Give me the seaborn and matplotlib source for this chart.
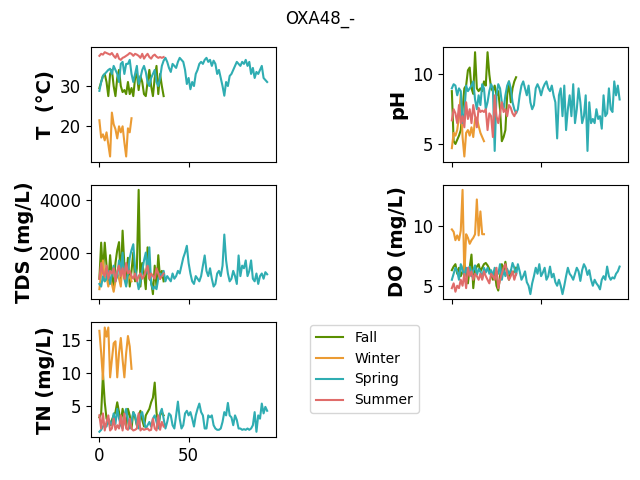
import numpy as np
import pandas as pd
import matplotlib
matplotlib.use("Agg")
import matplotlib.pyplot as plt
import seaborn as sns

seasons = ["Fall", "Winter", "Spring", "Summer"]
colors = {"Fall": "#5a8f00", "Winter": "#eb9b33", "Spring": "#2fadb2", "Summer": "#e06c6a"}

variables = ["T", "pH", "TDS", "DO", "TN"]
ylabels = ["T  (°C)", "pH", "TDS (mg/L)", "DO (mg/L)", "TN (mg/L)"]

# Fall (37 samples)
fall_T = [29.5, 31, 32.5, 33, 31, 27.5, 33, 34, 30, 27.5, 32, 34, 30, 28.5, 29, 28, 31, 28, 29.5, 27.5,
          32, 33, 29, 32.5, 31, 28, 27.5, 31, 34, 30, 27.5, 32, 35, 28, 33, 30, 27.5]
fall_pH = [8.8, 5.2, 5.0, 5.3, 5.6, 6.0, 7.5, 9.0, 9.2, 10.3, 10.5, 9.0, 8.6, 11.6, 9.0, 8.8, 9.0, 8.8, 9.5, 9.2,
           11.6, 10.0, 9.0, 8.8, 9.2, 8.5, 8.8, 7.5, 5.2, 5.5, 6.0, 8.5, 9.5, 8.0, 9.0, 9.5, 9.8]
fall_TDS = [1000, 2380, 1200, 2380, 1500, 800, 1900, 1100, 700, 1600, 2100, 2400, 900, 2840, 1500, 1000, 1800, 700, 1300, 2000,
            900, 1400, 4400, 700, 1600, 1200, 600, 2200, 1000, 900, 410, 1500, 700, 1900, 1000, 1300, 900]
fall_DO = [6.3, 6.6, 6.8, 6.0, 6.5, 5.8, 6.2, 6.9, 6.0, 5.2, 6.5, 7.6, 4.8, 6.3, 6.6, 6.8, 6.2, 6.5, 6.8, 6.9,
           6.7, 6.4, 6.0, 5.5, 6.2, 5.0, 4.6, 5.8, 6.8, 6.2, 7.0, 6.0, 5.5, 6.3, 6.0, 6.2, 6.5]
fall_TN = [3.2, 3.8, 9.8, 5.5, 3.0, 2.5, 2.0, 2.8, 3.5, 4.0, 5.5, 4.0, 2.2, 4.5, 3.0, 1.8, 4.5, 3.5, 1.5, 4.0,
           3.2, 2.0, 3.5, 4.2, 2.8, 1.8, 3.5, 4.0, 4.5, 5.5, 6.2, 8.5, 4.0, 1.8, 3.5, 4.0, 3.5]

# Winter (19 samples)
winter_T = [21.5, 17.2, 18.0, 16.5, 18.5, 15.5, 12.5, 23.4, 20.5, 19.3, 17.0, 20.0, 18.5, 20.0, 16.0, 12.5, 19.5, 18.5, 22.0]
winter_pH = [4.7, 5.8, 5.6, 6.0, 7.0, 8.6, 5.5, 4.1, 5.8, 6.0, 5.6, 6.2, 5.5, 6.8, 6.9, 6.3, 5.8, 5.5, 5.2]
winter_TDS = [600, 1200, 1700, 900, 1100, 700, 1000, 800, 500, 900, 1200, 1000, 700, 1600, 1300, 800, 1000, 1100, 900]
winter_DO = [9.7, 9.5, 8.8, 9.2, 8.8, 9.6, 13.0, 5.8, 9.3, 9.0, 8.5, 8.8, 9.0, 9.3, 12.2, 9.2, 11.2, 9.3, 9.3]
winter_TN = [16.4, 13.0, 9.0, 16.9, 15.5, 16.9, 9.3, 12.0, 14.5, 14.8, 9.3, 13.0, 15.3, 12.0, 9.3, 13.0, 15.6, 14.0, 10.6]

# Spring (95 samples)
spring_T = [28.8, 31, 32.5, 33, 33.5, 34, 34.3, 33, 35, 34,
            33, 31, 35.5, 36, 33, 35.5, 35.5, 36.5, 33, 31,
            33, 35, 30.5, 32, 34, 35, 33.5, 31, 30, 32,
            33, 34, 31, 30, 32, 35, 36.3, 37, 36, 34.5,
            33.5, 35.5, 35, 34.5, 36, 37, 36.5, 36, 34, 30.5,
            32, 29.2, 31, 30, 33, 34, 35.5, 36, 35.5, 36.5,
            37, 36, 36.5, 35, 36.3, 35.5, 33, 34, 32, 30,
            27.6, 31, 30, 32.5, 33, 34, 35, 36, 35.5, 35,
            36, 35.5, 36.5, 35, 36, 33, 34.5, 32, 33.5, 33,
            34, 35, 32, 31.5, 31]
spring_pH = [9.0, 9.3, 9.2, 8.5, 9.0, 8.8, 6.5, 7.2, 9.2, 8.8,
             9.0, 9.2, 9.5, 8.2, 7.5, 8.5, 7.8, 9.3, 9.0, 7.5,
             8.0, 8.8, 9.3, 9.0, 4.5, 8.5, 9.3, 9.0, 8.0, 7.5,
             8.5, 9.2, 9.5, 9.0, 8.0, 7.5, 7.2, 7.5, 8.5, 9.2,
             9.5, 9.0, 8.5, 9.2, 8.0, 7.5, 7.8, 9.0, 9.3, 9.0,
             8.5, 9.0, 9.3, 9.5, 9.0, 8.8, 9.2, 8.5, 8.0, 5.4,
             8.5, 9.0, 7.0, 9.2, 6.0, 7.5, 8.5, 7.0, 9.3, 6.5,
             7.5, 9.0, 8.0, 6.5, 7.0, 8.5, 4.5, 8.0, 6.5, 6.8,
             6.5, 7.5, 6.8, 7.0, 6.1, 8.5, 7.0, 7.2, 9.0, 7.5,
             7.3, 9.5, 8.5, 9.2, 8.2]
spring_TDS = [800, 700, 1100, 900, 1000, 1300, 800, 1200, 1500, 900,
              1100, 1700, 1300, 2000, 1000, 700, 1200, 1800, 2100, 2320,
              1400, 1000, 600, 900, 1300, 1700, 2000, 1200, 2200, 800,
              600, 700, 600, 1000, 1200, 1100, 1300, 900, 1100, 1000,
              900, 1200, 1000, 1100, 1300, 1200, 1500, 1800, 2000, 2260,
              1600, 1200, 900, 800, 1100, 1000, 900, 1100, 1500, 1890,
              1300, 1100, 1400, 1000, 700, 800, 1200, 1300, 1100, 1500,
              2690, 1700, 1200, 900, 1000, 1300, 1100, 800, 1890, 1100,
              1500, 1400, 1700, 1100, 1300, 1700, 1000, 900, 1200, 800,
              1100, 1200, 1000, 1250, 1170]
spring_DO = [5.5, 6.0, 6.5, 6.2, 5.5, 6.8, 6.3, 5.8, 6.5, 6.0,
             6.6, 5.8, 6.3, 6.7, 5.9, 6.4, 6.2, 5.6, 6.5, 6.1,
             6.5, 6.0, 6.3, 5.8, 6.5, 6.2, 6.0, 6.8, 5.5, 6.3,
             5.8, 6.4, 6.0, 6.2, 6.9, 6.5, 5.9, 6.8, 6.2, 5.5,
             5.8, 6.2, 5.3, 5.0, 4.3, 5.2, 5.8, 6.5, 6.0, 6.8,
             5.8, 6.1, 6.5, 5.5, 5.8, 6.6, 5.7, 6.0, 5.3, 5.0,
             5.5, 5.0, 4.3, 5.0, 5.8, 6.5, 6.0, 5.8, 5.5, 6.0,
             6.5, 6.2, 5.4, 6.3, 6.8, 6.5, 5.9, 6.3, 5.5, 5.0,
             5.5, 5.2, 5.0, 4.7, 5.5, 5.8, 5.5, 6.6, 5.8, 5.5,
             5.7, 5.6, 6.0, 6.2, 6.6]
spring_TN = [1.0, 1.3, 1.8, 2.2, 1.8, 3.0, 2.5, 2.0, 3.8, 2.2,
             4.5, 3.0, 2.0, 1.5, 3.5, 4.5, 2.8, 1.5, 2.5, 4.0,
             3.5, 2.0, 1.5, 3.5, 4.0, 2.5, 1.5, 2.0, 2.5, 1.8,
             3.0, 3.5, 2.5, 1.5, 3.8, 4.5, 3.0, 1.5, 2.5, 3.8,
             3.5, 2.0, 1.5, 3.5, 5.6, 3.0, 1.5, 2.0, 3.8, 4.2,
             3.5, 4.0, 3.0, 1.8, 3.5, 4.5, 5.3, 4.0, 3.5, 1.5,
             1.5, 3.5, 3.2, 3.5, 2.0, 1.5, 1.3, 1.3, 1.5, 2.5,
             4.0, 3.5, 5.4, 3.5, 3.2, 2.0, 3.5, 2.8, 1.5, 1.5,
             1.3, 1.4, 1.3, 1.5, 1.3, 1.5, 2.0, 4.0, 1.0, 3.5,
             3.0, 5.3, 3.8, 4.8, 4.2]

# Summer (37 samples)
summer_T = [37.5, 38.0, 37.8, 38.4, 38.2, 38.0, 37.8, 38.2, 37.5, 37.0, 38.0, 36.8, 36.5, 37.0, 37.2, 37.5, 37.8, 38.2, 38.0,
            37.5, 38.0, 37.8, 37.5, 37.0, 38.0, 36.8, 37.5, 38.0, 37.2, 36.8, 37.5, 37.8, 37.3, 37.0, 37.2, 37.0, 37.2]
summer_pH = [6.7, 7.5, 7.2, 6.5, 7.8, 6.5, 7.0, 6.2, 8.0, 6.8, 7.5, 6.5, 7.8, 7.0, 6.2, 7.6, 7.3, 7.4, 7.3,
             7.5, 6.0, 7.2, 7.0, 5.5, 8.5, 7.0, 6.5, 7.2, 8.0, 7.3, 7.5, 7.0, 7.8, 7.6, 7.2, 7.0, 7.3]
summer_TDS = [1000, 1600, 1200, 1100, 1500, 1000, 1300, 1200, 1400, 900, 1300, 1500, 1100, 1400, 1000, 1600, 1200, 1300, 1100,
              1000, 1200, 900, 1100, 1200, 1000, 1100, 1300, 1500, 1000, 1200, 1100, 1000, 1400, 1200, 1000, 1100, 1200]
summer_DO = [4.8, 5.2, 4.5, 5.0, 4.8, 5.5, 5.0, 6.0, 4.8, 6.5, 5.8, 6.2, 5.5, 6.0, 5.8, 5.5, 6.0, 5.5, 6.2,
             5.8, 5.5, 5.2, 6.0, 5.8, 5.5, 6.5, 4.8, 5.5, 6.0, 6.5, 6.8, 6.0, 5.5, 5.8, 6.2, 5.5, 6.0]
summer_TN = [3.5, 1.5, 3.8, 1.2, 2.5, 3.5, 1.2, 1.5, 3.0, 1.3, 2.0, 1.5, 3.5, 1.2, 3.8, 1.5, 1.3, 3.0, 1.5,
             1.2, 1.3, 1.5, 3.8, 1.2, 1.5, 1.3, 1.4, 1.5, 1.2, 1.3, 3.0, 1.5, 1.2, 3.5, 1.3, 2.5, 1.8]

# Build long-form table
data = {
    "Fall": [fall_T, fall_pH, fall_TDS, fall_DO, fall_TN],
    "Winter": [winter_T, winter_pH, winter_TDS, winter_DO, winter_TN],
    "Spring": [spring_T, spring_pH, spring_TDS, spring_DO, spring_TN],
    "Summer": [summer_T, summer_pH, summer_TDS, summer_DO, summer_TN],
}
frames = []
for season in seasons:
    cols = dict(zip(variables, data[season]))
    d = pd.DataFrame(cols)
    d["sample"] = np.arange(len(d))
    d["season"] = season
    frames.append(d)
df = pd.concat(frames, ignore_index=True)

# Plot
fig, axes = plt.subplots(3, 2, sharex=True, figsize=(6.4, 4.8), dpi=100)
fig.suptitle("OXA48_-")

for ax, var, lab in zip(axes.flat, variables, ylabels):
    sns.lineplot(data=df, x="sample", y=var, hue="season", hue_order=seasons,
                 palette=colors, ax=ax, legend=False)
    ax.set_xlabel("")
    ax.set_ylabel(lab, fontsize=14, fontweight="bold")
    ax.tick_params(labelsize=12)

axes[2, 1].axis("off")
axes[2, 0].set_xticks([0, 50])

plt.subplots_adjust(left=91 / 640, right=628 / 640, top=1 - 47 / 480, bottom=1 - 437 / 480,
                    wspace=0.91, hspace=0.2)

handles = [plt.Line2D([], [], color=colors[s]) for s in seasons]
fig.legend(handles, seasons, loc="upper left", bbox_to_anchor=(310 / 640, 1 - 325 / 480),
           borderaxespad=0)

plt.savefig("out.png", dpi=100)
